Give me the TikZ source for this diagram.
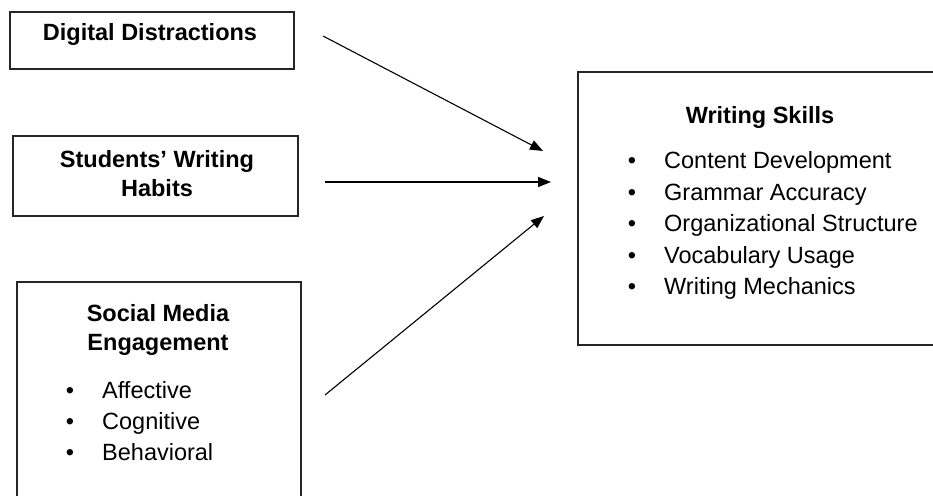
\documentclass[tikz,border=0pt]{standalone}
\usepackage{fontspec}
\setmainfont{Liberation Sans}
\usetikzlibrary{arrows.meta}
\begin{document}
\begin{tikzpicture}[x=1pt,y=-1pt,
  boxstyle/.style={draw=black!85,line width=1.1pt},
  txt/.style={inner sep=0pt,font=\fontsize{23.5}{28}\selectfont},
  ttl/.style={txt,font=\fontsize{23.5}{28}\selectfont\bfseries,anchor=base},
  item/.style={txt,anchor=base west},
  bul/.style={txt,anchor=base},
  conn/.style={line width=1.1pt,-{Triangle[length=13pt,width=10pt]}}]
\useasboundingbox (0,0) rectangle (933,495);
\clip (0,0) rectangle (933,495);
% boxes
\draw[boxstyle] (10,12) rectangle (294,69);
\draw[boxstyle] (13,136) rectangle (298,216);
\draw[boxstyle] (17,282) rectangle (301,510);
\draw[boxstyle] (578,72) rectangle (945,345);
% titles
\node[ttl] (dd) at (150,40.5) {Digital Distractions};
\node[ttl] (sw1) at (157,167) {Students’ Writing};
\node[ttl] (sw2) at (157,196) {Habits};
\node[ttl] (sm1) at (158,321.5) {Social Media};
\node[ttl] (sm2) at (158,350.5) {Engagement};
\node[ttl] (ws) at (760,123.5) {Writing Skills};
% social media list
\node[bul] (b1) at (70,398.5) {•};
\node[item] (i1) at (102,398.5) {Affective};
\node[bul] (b2) at (70,429) {•};
\node[item] (i2) at (102,429) {Cognitive};
\node[bul] (b3) at (70,460) {•};
\node[item] (i3) at (102,460) {Behavioral};
% writing skills list
\node[bul] (c1) at (632,168.5) {•};
\node[item] (w1) at (664,168.5) {Content Development};
\node[bul] (c2) at (632,200) {•};
\node[item] (w2) at (664,200) {Grammar Accuracy};
\node[bul] (c3) at (632,231.5) {•};
\node[item] (w3) at (664,231.5) {Organizational Structure};
\node[bul] (c4) at (632,263) {•};
\node[item] (w4) at (664,263) {Vocabulary Usage};
\node[bul] (c5) at (632,294) {•};
\node[item] (w5) at (664,294) {Writing Mechanics};
% arrows
\coordinate (a1s) at (323,36);
\coordinate (a1e) at (543,151);
\coordinate (a2s) at (325,182);
\coordinate (a2e) at (551,182);
\coordinate (a3s) at (325,395);
\coordinate (a3e) at (544,216);
\draw[conn] (a1s) -- (a1e);
\draw[conn] (a2s) -- (a2e);
\draw[conn] (a3s) -- (a3e);
\end{tikzpicture}
\end{document}
